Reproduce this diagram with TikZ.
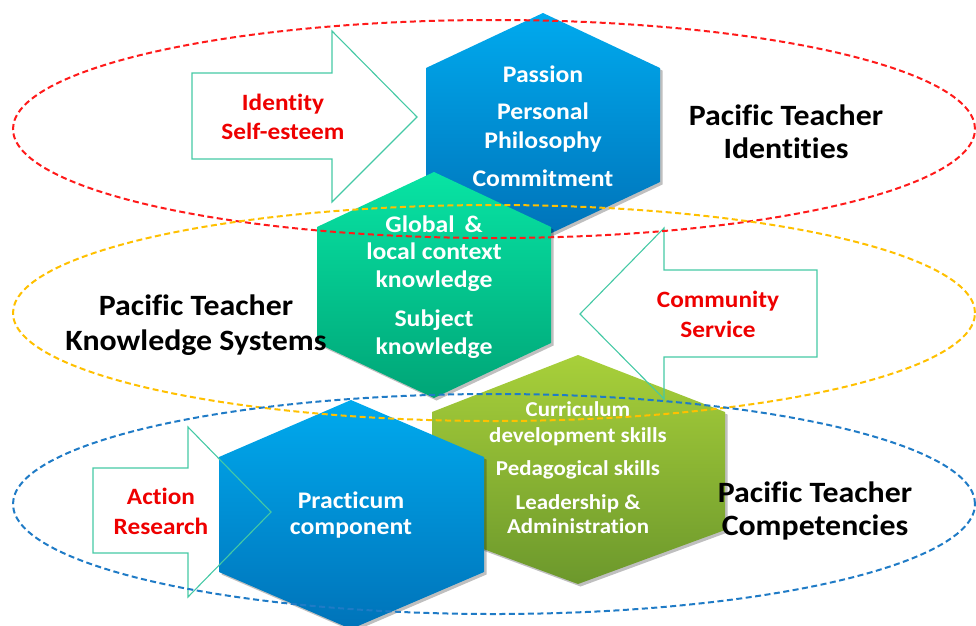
\documentclass[tikz,border=0pt]{standalone}
\usepackage{fontspec}
\setmainfont{Carlito}
\newfontfamily\widecarlito[FakeStretch=1.08, Ligatures=CommonOff]{Carlito}
\usetikzlibrary{shadows}
\definecolor{hexblueT}{HTML}{00AAEE}
\definecolor{hexblueB}{HTML}{0073B9}
\definecolor{hexgreenT}{HTML}{08E4A4}
\definecolor{hexgreenB}{HTML}{00A577}
\definecolor{hexoliveT}{HTML}{A8D03A}
\definecolor{hexoliveB}{HTML}{6C982C}
\definecolor{arrowline}{HTML}{45C9A5}
\definecolor{redtxt}{HTML}{EE0000}
\definecolor{ellred}{HTML}{FF1A1A}
\definecolor{ellyellow}{HTML}{FFC000}
\definecolor{ellblue}{HTML}{1F7BC6}
\begin{document}
\begin{tikzpicture}[x=1pt,y=-1pt,
  hexshape/.style={draw=none, drop shadow={shadow xshift=2.5pt, shadow yshift=-2.5pt, opacity=0.25, fill=black}},
  arrowshape/.style={draw=arrowline, line width=1.1pt, line join=miter},
  ellipseline/.style={line width=2pt, dash pattern=on 6pt off 3.5pt},
  whitetxt/.style={text=white, font=\widecarlito\bfseries\fontsize{23.8}{28}\selectfont, anchor=base, inner sep=0pt},
  olivetxt/.style={text=white, font=\widecarlito\bfseries\fontsize{21.2}{25}\selectfont, anchor=base, inner sep=0pt},
  redlbl/.style={text=redtxt, font=\widecarlito\bfseries\fontsize{23.4}{28}\selectfont, anchor=base, inner sep=0pt},
  blacklbl/.style={text=black, font=\widecarlito\bfseries\fontsize{29.5}{35}\selectfont, anchor=base, inner sep=0pt}
]
\useasboundingbox (0,0) rectangle (976,625);

% hexagons
\shade[hexshape, top color=hexblueT, bottom color=hexblueB]
  (543,13) -- (660,68) -- (660,182) -- (543,237) -- (426,182) -- (426,68) -- cycle;
\shade[hexshape, top color=hexgreenT, bottom color=hexgreenB]
  (434,172) -- (551,227) -- (551,343) -- (434,398) -- (317,343) -- (317,227) -- cycle;
\shade[hexshape, top color=hexoliveT, bottom color=hexoliveB]
  (578,355) -- (725,412) -- (725,530) -- (578,584) -- (432,530) -- (432,412) -- cycle;
\shade[hexshape, top color=hexblueT, bottom color=hexblueB]
  (351,400) -- (484,457) -- (484,572) -- (351,629) -- (219,572) -- (219,457) -- cycle;

% block arrows
\draw[arrowshape] (192,73) -- (332,73) -- (332,31) -- (417,117) -- (332,202) -- (332,159) -- (192,159) -- cycle;
\draw[arrowshape] (580,314) -- (664,228) -- (664,270) -- (817,270) -- (817,357) -- (664,357) -- (664,399) -- cycle;
\draw[arrowshape] (93,468) -- (188,468) -- (188,427) -- (271,512) -- (188,597) -- (188,553) -- (93,553) -- cycle;

% top hexagon texts
\node[whitetxt] (passion) at (543,82) {Passion};
\node[whitetxt] (personal) at (543,119) {Personal};
\node[whitetxt] (philosophy) at (543,148) {Philosophy};
\node[whitetxt] (commitment) at (543,186) {Commitment};

% green hexagon texts
\node[whitetxt] (global) at (434,232) {Global \,\&};
\node[whitetxt] (localctx) at (434,259) {local context};
\node[whitetxt] (knowA) at (434,287) {knowledge};
\node[whitetxt] (subject) at (434,326) {Subject};
\node[whitetxt] (knowB) at (434,354) {knowledge};

% olive hexagon texts
\node[olivetxt] (curric) at (578,416) {Curriculum};
\node[olivetxt] (devskills) at (578,442) {development skills};
\node[olivetxt] (pedag) at (578,475) {Pedagogical skills};
\node[olivetxt] (leader) at (578,509) {Leadership \&};
\node[olivetxt] (admin) at (578,533) {Administration};

% bottom blue hexagon texts
\node[whitetxt] (practicum) at (351,508) {Practicum};
\node[whitetxt] (component) at (351,534) {component};

% red arrow labels
\node[redlbl] (identity) at (283,110) {Identity};
\node[redlbl] (selfesteem) at (283,139) {Self-esteem};
\node[redlbl] (community) at (718,307) {Community};
\node[redlbl] (service) at (718,337) {Service};
\node[redlbl] (action) at (161,504) {Action};
\node[redlbl] (research) at (161,534) {Research};

% black group labels
\node[blacklbl] (idA) at (786,125) {Pacific Teacher};
\node[blacklbl] (idB) at (786,158) {Identities};
\node[blacklbl] (ksA) at (196,315) {Pacific Teacher};
\node[blacklbl] (ksB) at (196,350) {Knowledge Systems};
\node[blacklbl] (coA) at (815,502) {Pacific Teacher};
\node[blacklbl] (coB) at (815,535) {Competencies};

% dashed ellipses
\draw[ellipseline, draw=ellred] (494,129) ellipse [x radius=481pt, y radius=109pt];
\draw[ellipseline, draw=ellyellow] (494,313) ellipse [x radius=481pt, y radius=108pt];
\draw[ellipseline, draw=ellblue] (494,504) ellipse [x radius=481pt, y radius=110pt];
\end{tikzpicture}
\end{document}
